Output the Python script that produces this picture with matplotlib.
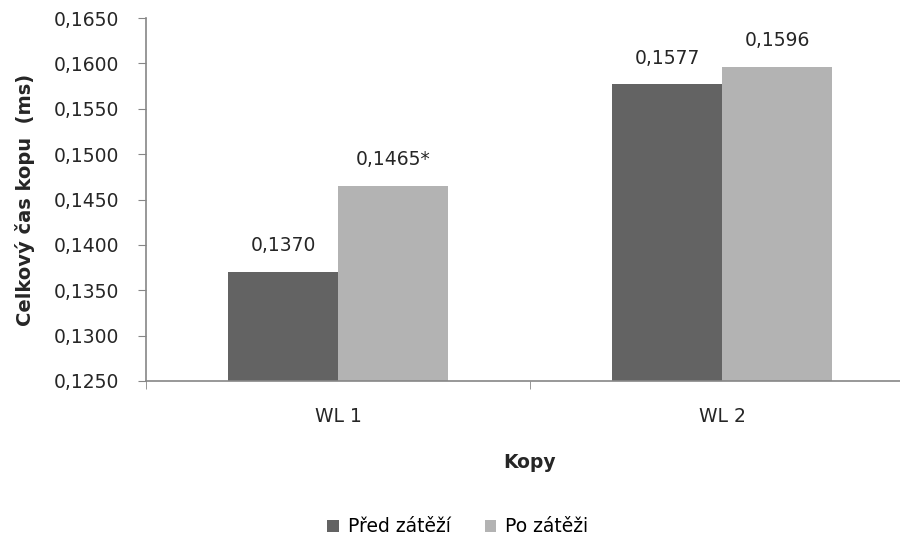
import matplotlib
matplotlib.use("Agg")
import matplotlib.pyplot as plt
import numpy as np

categories = ["WL 1", "WL 2"]
series_names = ["Před zátěží", "Po zátěži"]
pred_zatezi = [0.1370, 0.1577]
po_zatezi = [0.1465, 0.1596]
value_labels = [["0,1370", "0,1577"], ["0,1465*", "0,1596"]]
y_ticks = [0.1250, 0.1300, 0.1350, 0.1400, 0.1450, 0.1500, 0.1550, 0.1600, 0.1650]

plt.rcParams["font.family"] = ["DejaVu Sans"]
colors = ["#636363", "#b3b3b3"]
axis_color = "#868686"
text_color = "#262626"
fs = 13.5

fig = plt.figure(figsize=(9, 5.42), dpi=100)
W, H = 900, 542
left, right, top, bottom = 146, 914, 18, 381
ax = fig.add_axes([left / W, 1 - bottom / H, (right - left) / W, (bottom - top) / H])

x = np.arange(len(categories))
bw = 110 / 384
for i, (vals, name) in enumerate(zip([pred_zatezi, po_zatezi], series_names)):
    pos = x + (i - 0.5) * bw
    ax.bar(pos, vals, width=bw, color=colors[i], label=name, zorder=2)
    for p, v, lab in zip(pos, vals, value_labels[i]):
        ax.annotate(lab, (p, v), xytext=(0, 12), textcoords="offset points",
                    ha="center", va="bottom", fontsize=fs, color=text_color)

ax.set_xlim(-0.5, 1.5)
ax.set_ylim(0.1250, 0.1650)
ax.set_yticks(y_ticks)
ax.set_yticklabels([f"{t:.4f}".replace(".", ",") for t in y_ticks],
                   fontsize=fs, color=text_color)
ax.set_xticks(x)
ax.set_xticklabels(categories, fontsize=fs, color=text_color)
ax.tick_params(axis="x", length=0, pad=18.5)
ax.set_xticks([-0.5, 0.5, 1.5], minor=True)
ax.tick_params(axis="x", which="minor", length=6, color=axis_color, direction="out")
ax.tick_params(axis="y", length=6, color=axis_color, direction="out", pad=13)

for s in ["top", "right"]:
    ax.spines[s].set_visible(False)
for s in ["left", "bottom"]:
    ax.spines[s].set_color(axis_color)
    ax.spines[s].set_linewidth(1.2)

ax.set_xlabel("Kopy", fontsize=fs, fontweight="bold", color=text_color, labelpad=20)
ax.set_ylabel("Celkový čas kopu  (ms)", fontsize=14, fontweight="bold",
              color=text_color, labelpad=14)

fig.legend(loc="center", bbox_to_anchor=(458 / W, 1 - 527 / H), ncol=2,
           frameon=False, fontsize=fs, handlelength=0.6, handleheight=0.6,
           handletextpad=0.5, columnspacing=1.8)

fig.savefig("out.png", dpi=100)
